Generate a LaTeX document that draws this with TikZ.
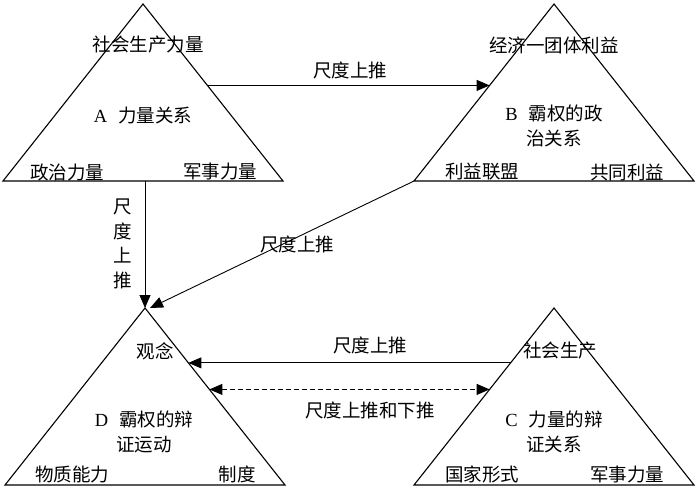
\documentclass[tikz,border=0pt]{standalone}
\usepackage{fontspec}
\setmainfont{Noto Sans CJK SC}
\newfontfamily\lat{Liberation Serif}
\usetikzlibrary{arrows.meta,calc}

\begin{document}
\begin{tikzpicture}[x=1pt,y=-1pt,line width=0.9pt,
  tri/.style={line width=1.1pt,line join=miter},
  lab/.style={font=\fontsize{18.5}{25}\selectfont,inner sep=0pt,align=center},
  push/.style={-{Triangle[length=13pt,width=11pt]}},
  twoway/.style={dash pattern=on 5pt off 3pt,{Triangle[length=13pt,width=11pt]}-{Triangle[length=13pt,width=11pt]}}]
\useasboundingbox (0,0) rectangle (700,492);

% the four triangles
\coordinate (Atop) at (143,4);   \coordinate (Aleft) at (3,181);   \coordinate (Aright) at (283,181);
\coordinate (Btop) at (554,4);   \coordinate (Bleft) at (414,181); \coordinate (Bright) at (694,181);
\coordinate (Dtop) at (145,308); \coordinate (Dleft) at (5,485);   \coordinate (Dright) at (285,485);
\coordinate (Ctop) at (554,308); \coordinate (Cleft) at (414,485); \coordinate (Cright) at (694,485);
\draw[tri] (Atop) -- (Aleft) -- (Aright) -- cycle;
\draw[tri] (Btop) -- (Bleft) -- (Bright) -- cycle;
\draw[tri] (Dtop) -- (Dleft) -- (Dright) -- cycle;
\draw[tri] (Ctop) -- (Cleft) -- (Cright) -- cycle;

% A
\node[lab] at (148,45) (Aprod) {社会生产力量};
\node[lab] at (143,116) (Aname) {{\lat A}\hspace{0.6em}力量关系};
\node[lab] at (67,172) (Apol) {政治力量};
\node[lab] at (220,172) (Amil) {军事力量};

% B
\node[lab] at (554,45) (Becon) {经济一团体利益};
\node[lab] at (554,126) (Bname) {{\lat B}\hspace{0.6em}霸权的政\\治关系};
\node[lab] at (482,172) (Bunion) {利益联盟};
\node[lab] at (627,172) (Bcommon) {共同利益};

% D
\node[lab] at (155,351) (Didea) {观念};
\node[lab] at (144,432) (Dname) {{\lat D}\hspace{0.6em}霸权的辩\\证运动};
\node[lab] at (72,474) (Dmat) {物质能力};
\node[lab] at (237,474) (Dinst) {制度};

% C
\node[lab] at (560,351) (Cprod) {社会生产};
\node[lab] at (554,432) (Cname) {{\lat C}\hspace{0.6em}力量的辩\\证关系};
\node[lab] at (482,474) (Cstate) {国家形式};
\node[lab] at (627,474) (Cmil) {军事力量};

% connectors
\coordinate (Aout) at ($(Atop)!0.46!(Aright)$);
\coordinate (Bin) at ($(Btop)!0.46!(Bleft)$);
\coordinate (Adown) at (145,181);
\coordinate (Dpeak) at (150,308);
\coordinate (Cout) at ($(Ctop)!0.31!(Cleft)$);
\coordinate (Din) at ($(Dtop)!0.31!(Dright)$);
\coordinate (Cboth) at ($(Ctop)!0.46!(Cleft)$);
\coordinate (Dboth) at ($(Dtop)!0.46!(Dright)$);

\path[push] (Aout) edge (Bin);
\path[push] (Adown) edge (Dtop);
\path[push] (Bleft) edge (Dpeak);
\path[push] (Cout) edge (Din);
\path[twoway] (Dboth) edge (Cboth);

\node[lab] at (350,70) (ABlab) {尺度上推};
\node[lab,font=\fontsize{18.5}{24.5}\selectfont] at (123,244) (ADlab) {尺\\度\\上\\推};
\node[lab] at (297,244) (BDlab) {尺度上推};
\node[lab] at (370,345) (CDlab) {尺度上推};
\node[lab] at (370,410) (DClab) {尺度上推和下推};
\end{tikzpicture}
\end{document}
